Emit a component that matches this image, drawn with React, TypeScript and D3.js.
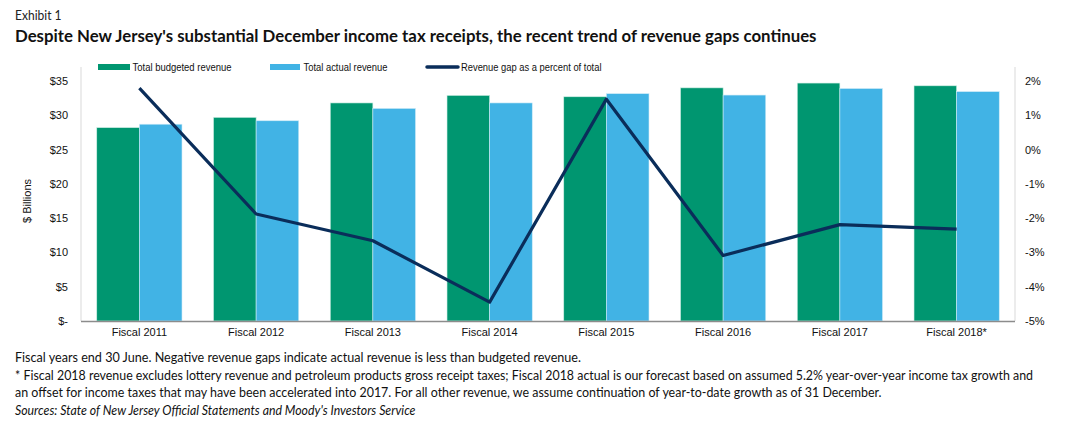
import React from "react";
import * as d3 from "d3";

const categories = ["Fiscal 2011", "Fiscal 2012", "Fiscal 2013", "Fiscal 2014", "Fiscal 2015", "Fiscal 2016", "Fiscal 2017", "Fiscal 2018*"];
const budgeted = [28.2, 29.7, 31.8, 32.9, 32.7, 34.0, 34.7, 34.3];
const actual = [28.7, 29.2, 31.0, 31.8, 33.15, 32.95, 33.9, 33.45];
const gapPct = [1.79, -1.88, -2.66, -4.45, 1.47, -3.09, -2.19, -2.32];
const leftTicks = [0, 5, 10, 15, 20, 25, 30, 35];
const rightTicks = [-5, -4, -3, -2, -1, 0, 1, 2];
const legendLabels = ["Total budgeted revenue", "Total actual revenue", "Revenue gap as a percent of total"];
const footnotes = [
  "Fiscal years end 30 June. Negative revenue gaps indicate actual revenue is less than budgeted revenue.",
  "* Fiscal 2018 revenue excludes lottery revenue and petroleum products gross receipt taxes; Fiscal 2018 actual is our forecast based on assumed 5.2% year-over-year income tax growth and",
  "an offset for income taxes that may have been accelerated into 2017. For all other revenue, we assume continuation of year-to-date growth as of 31 December.",
];
const sourceLine = "Sources: State of New Jersey Official Statements and Moody's Investors Service";

const GREEN = "#009670";
const BLUE = "#41b3e5";
const NAVY = "#0a2d5a";

export default function App() {
  const W = 1088, H = 434;
  const left = 81, right = 1015, top = 81, bottom = 321;
  const x = d3.scaleBand<string>().domain(categories).range([left, right]).paddingInner(0.27).paddingOuter(0.135);
  const x1 = d3.scaleBand<string>().domain(["b", "a"]).range([0, x.bandwidth()]);
  const y = d3.scaleLinear().domain([0, 35]).range([bottom, top]);
  const y2 = d3.scaleLinear().domain([-5, 2]).range([bottom, top]);
  const line = d3.line<number>().x((_, i) => (x(categories[i]) as number) + x.bandwidth() / 2).y((d) => y2(d));
  const chartFont = "'Liberation Sans', Arial, sans-serif";
  const textFont = "Lato, 'Open Sans', sans-serif";
  const fmtL = (v: number) => (v === 0 ? "$-" : `$${v}`);
  const fmtR = (v: number) => `${v}%`;
  const footEnds = [581, 1033, 881.5];

  return (
    <svg width={W} height={H} style={{ position: "absolute", left: 0, top: 0, background: "#fff" }}>
      <text x={15} y={20} fontFamily={textFont} fontSize={13} fill="#222" textLength={46.5} lengthAdjust="spacingAndGlyphs">Exhibit 1</text>
      <text x={15} y={42} fontFamily={textFont} fontSize={17} fontWeight="bold" fill="#111" textLength={801.5} lengthAdjust="spacingAndGlyphs">
        Despite New Jersey's substantial December income tax receipts, the recent trend of revenue gaps continues
      </text>

      {/* legend */}
      <g fontFamily={chartFont} fontSize={10.6} fill="#111">
        <rect x={98} y={64} width={32} height={6} fill={GREEN} />
        <text x={132.5} y={70.8} textLength={99} lengthAdjust="spacingAndGlyphs">{legendLabels[0]}</text>
        <rect x={270} y={64} width={30} height={6} fill={BLUE} />
        <text x={303.5} y={70.8} textLength={84} lengthAdjust="spacingAndGlyphs">{legendLabels[1]}</text>
        <line x1={427} x2={458} y1={67} y2={67} stroke={NAVY} strokeWidth={3.5} strokeLinecap="round" />
        <text x={461} y={70.8} textLength={140.5} lengthAdjust="spacingAndGlyphs">{legendLabels[2]}</text>
      </g>

      {/* bars */}
      {categories.map((c, i) => (
        <g key={c} transform={`translate(${x(c)},0)`}>
          <rect x={x1("b")} y={y(budgeted[i])} width={x1.bandwidth()} height={bottom - y(budgeted[i])} fill={GREEN} stroke="#cfeee4" strokeWidth={0.6} />
          <rect x={x1("a")} y={y(actual[i])} width={x1.bandwidth()} height={bottom - y(actual[i])} fill={BLUE} stroke="#cdeaf7" strokeWidth={0.6} />
        </g>
      ))}

      {/* axis lines */}
      <line x1={left} x2={left} y1={top - 14} y2={bottom} stroke="#d9d9d9" strokeWidth={1} />
      <line x1={right} x2={right} y1={top - 14} y2={bottom} stroke="#d9d9d9" strokeWidth={1} />
      <line x1={left} x2={right} y1={bottom + 0.5} y2={bottom + 0.5} stroke="#8c8c8c" strokeWidth={1.5} />

      {/* line */}
      <path d={line(gapPct) || ""} fill="none" stroke={NAVY} strokeWidth={3.2} strokeLinejoin="round" />

      {/* ticks */}
      <g fontFamily={chartFont} fontSize={11} fill="#111">
        {leftTicks.map((t) => (
          <text key={t} x={68} y={y(t) + 4} textAnchor="end">{fmtL(t)}</text>
        ))}
        {rightTicks.map((t) => (
          <text key={t} x={1025} y={y2(t) + 4} textAnchor="start">{fmtR(t)}</text>
        ))}
        {categories.map((c) => (
          <text key={c} x={(x(c) as number) + x.bandwidth() / 2} y={336} textAnchor="middle">{c}</text>
        ))}
        <text transform={`translate(31,${(top + bottom) / 2}) rotate(-90)`} textAnchor="middle">$ Billions</text>
      </g>

      {/* footnotes */}
      <g fontFamily={textFont} fontSize={13} fill="#111">
        {footnotes.map((f, i) => (
          <text key={i} x={15} y={362 + i * 17.7} textLength={footEnds[i] - 15} lengthAdjust="spacingAndGlyphs">{f}</text>
        ))}
        <text x={15} y={362 + 3 * 17.7} fontStyle="italic" textLength={400.5} lengthAdjust="spacingAndGlyphs">{sourceLine}</text>
      </g>
    </svg>
  );
}
